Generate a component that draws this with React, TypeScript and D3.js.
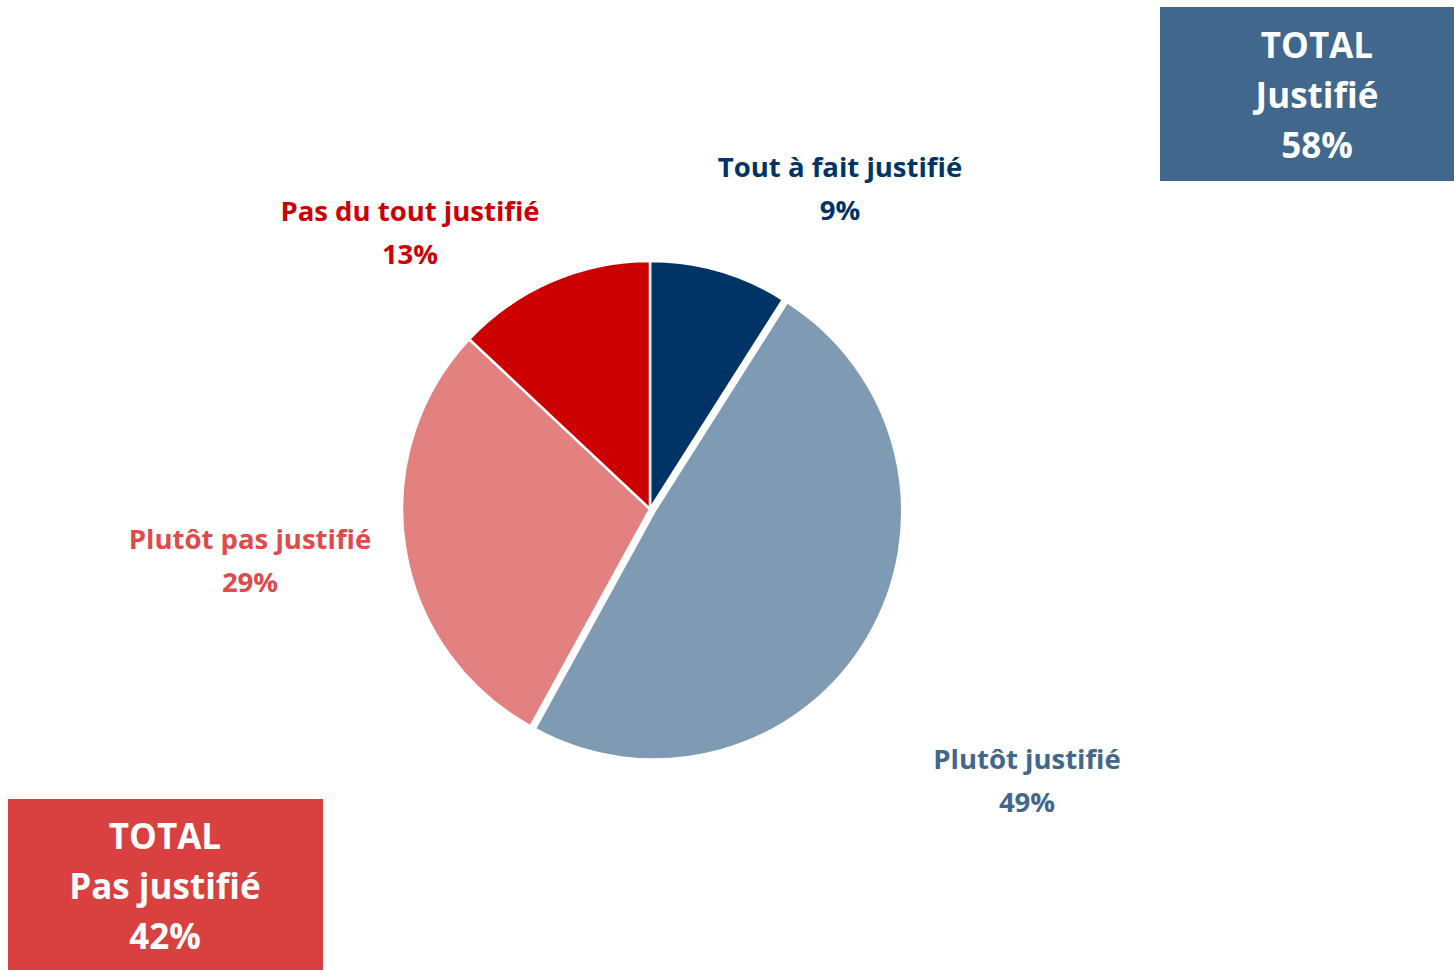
import React from "react";
import * as d3 from "d3";

const categories = ["Tout à fait justifié", "Plutôt justifié", "Plutôt pas justifié", "Pas du tout justifié"];
const values = [9, 49, 29, 13];
const sliceColors = ["#003366", "#7F9AB3", "#E38080", "#CC0000"];
const labelColors = ["#003366", "#41678C", "#E04A4A", "#CC0000"];
const explode = [0, 5, 0, 0];
const labelPos: [number, number][] = [[840, 177], [1027, 769], [250, 549], [410, 221]];

const totals = [
  { lines: ["TOTAL", "Justifié", "58%"], color: "#41678C", x: 1160, y: 7, w: 294, h: 174, cx: 1317, by: 58 },
  { lines: ["TOTAL", "Pas justifié", "42%"], color: "#D94040", x: 8, y: 799, w: 315, h: 171, cx: 165, by: 849 },
];

const FONT = "'Open Sans', Lato, sans-serif";

export default function App() {
  const W = 1454, H = 970;
  const cx = 650, cy = 509, r = 248;
  const pie = d3.pie<number>().sort(null).value((d) => d);
  const arcs = pie(values);
  const arc = d3.arc<d3.PieArcDatum<number>>().innerRadius(0).outerRadius(r);
  return (
    <svg width={W} height={H} style={{ position: "absolute", left: 0, top: 0, background: "#fff", fontVariantLigatures: "none" }} fontFamily={FONT}>
      <g transform={`translate(${cx},${cy})`}>
        {arcs.map((a, i) => {
          const mid = (a.startAngle + a.endAngle) / 2;
          const dx = Math.sin(mid) * explode[i];
          const dy = -Math.cos(mid) * explode[i];
          return (
            <path key={i} d={arc(a) || ""} transform={`translate(${dx},${dy})`} fill={sliceColors[i]} stroke="#fff" strokeWidth={2.5} strokeLinejoin="round" />
          );
        })}
      </g>
      {categories.map((c, i) => (
        <g key={c} fill={labelColors[i]} fontWeight={700} fontSize={27.5} textAnchor="middle">
          <text x={labelPos[i][0]} y={labelPos[i][1]}>{c}</text>
          <text x={labelPos[i][0]} y={labelPos[i][1] + 43}>{values[i]}%</text>
        </g>
      ))}
      {totals.map((t, i) => (
        <g key={i}>
          <rect x={t.x} y={t.y} width={t.w} height={t.h} fill={t.color} />
          {t.lines.map((l, j) => (
            <text key={j} x={t.cx} y={t.by + j * 50} fill="#fff" fontWeight={700} fontSize={35} textAnchor="middle">{l}</text>
          ))}
        </g>
      ))}
    </svg>
  );
}
